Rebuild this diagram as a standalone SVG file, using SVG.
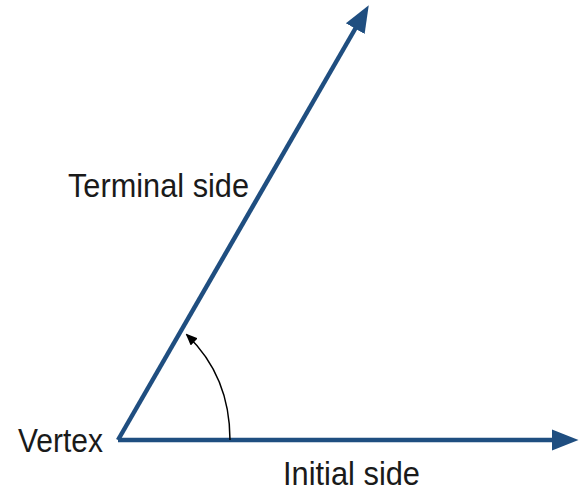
<svg xmlns="http://www.w3.org/2000/svg" width="579" height="491" viewBox="0 0 579 491">
<style>
.ray{stroke:#1f4e80;stroke-width:4.5;fill:none}
.arc{stroke:#000;stroke-width:1.5;fill:none}
text{font-family:"Liberation Sans",Arial,sans-serif;font-size:33px;fill:#1a1a1a}
</style>
<defs>
<marker id="big" markerWidth="6" markerHeight="6" refX="3" refY="3" orient="auto" markerUnits="strokeWidth" viewBox="0 0 6 6">
<path d="M0,0.6 L6,3 L0,5.4 Z" fill="#1f4e80"/>
</marker>
<marker id="small" markerWidth="12" markerHeight="10" refX="10" refY="5" orient="auto" markerUnits="userSpaceOnUse" viewBox="0 0 12 10">
<path d="M0,0 L12,5 L0,10 Z" fill="#000"/>
</marker>
</defs>
<rect width="579" height="491" fill="#fff"/>
<g id="connectors">
<line class="ray" x1="118" y1="440" x2="362" y2="17" marker-end="url(#big)"/>
<line class="ray" x1="118" y1="440" x2="565" y2="440" marker-end="url(#big)"/>
<path class="arc" d="M230,440 C230,395 213,360 187,335" marker-end="url(#small)"/>
</g>
<g id="vertex"><text x="18" y="452" textLength="85" lengthAdjust="spacingAndGlyphs">Vertex</text></g>
<g id="terminal"><text x="68" y="197" textLength="181" lengthAdjust="spacingAndGlyphs">Terminal side</text></g>
<g id="initial"><text x="283" y="485" textLength="137" lengthAdjust="spacingAndGlyphs">Initial side</text></g>
</svg>
